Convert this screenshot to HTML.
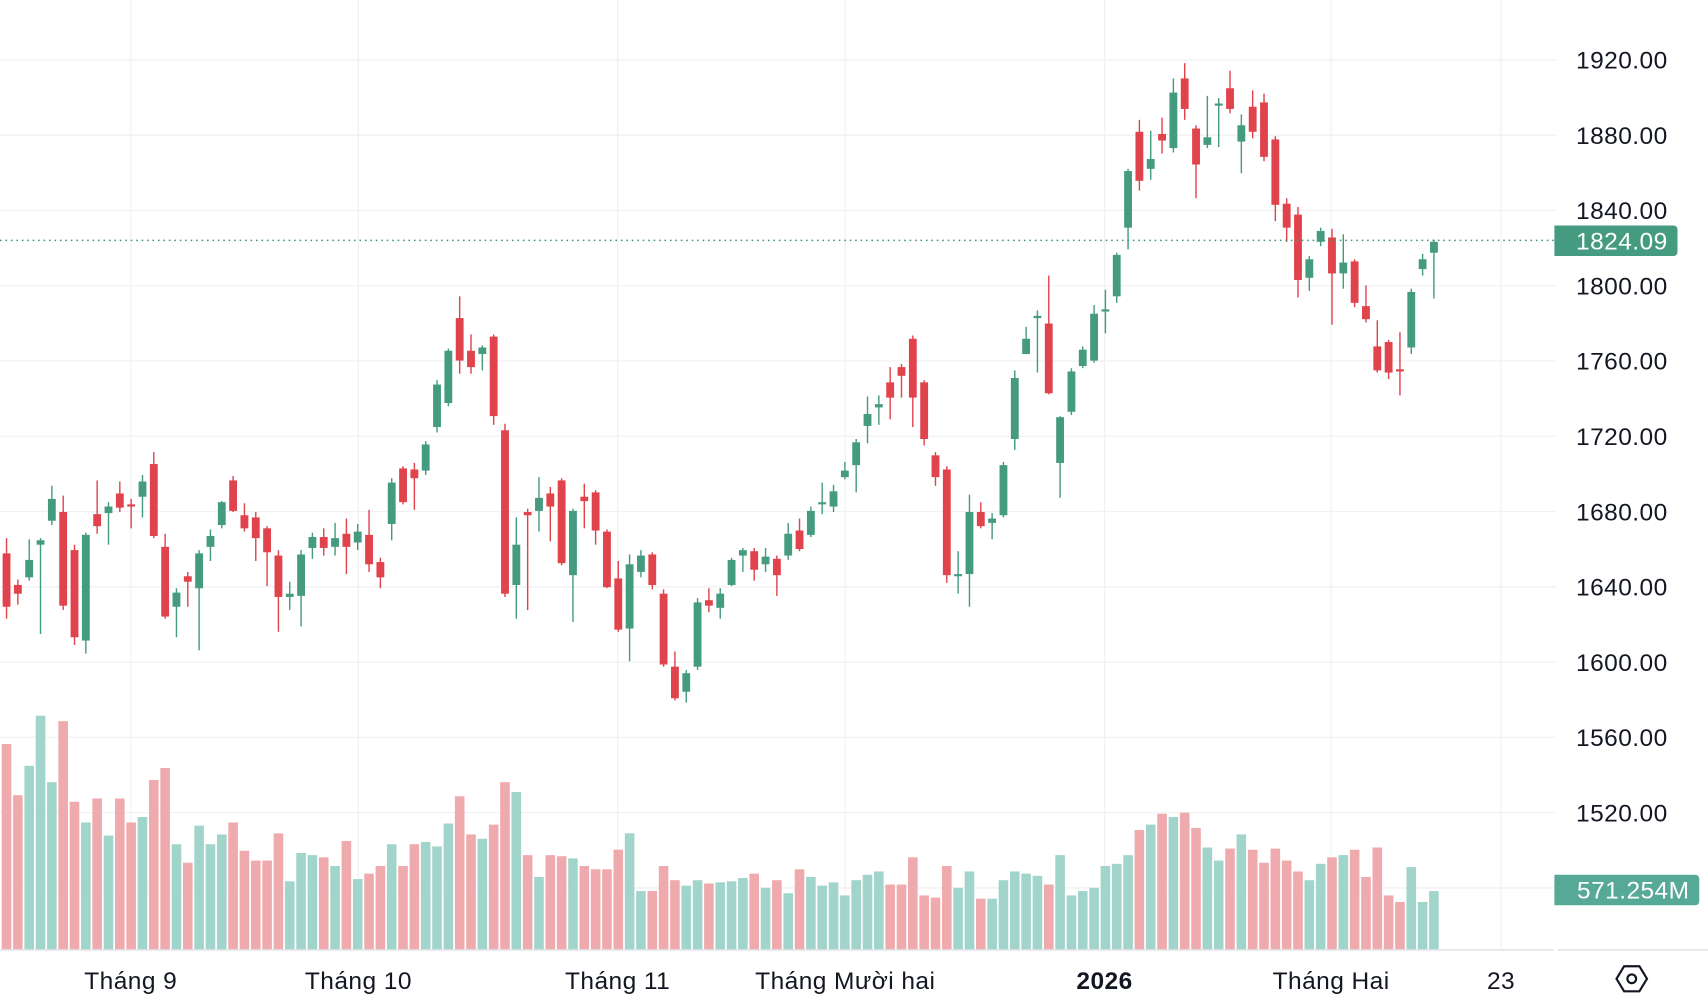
<!DOCTYPE html>
<html><head><meta charset="utf-8"><style>
html,body{margin:0;padding:0;background:#fff;width:1708px;height:1006px;overflow:hidden}
svg{display:block}
text{font-family:"Liberation Sans",sans-serif;letter-spacing:0.4px}
</style></head><body>
<svg id="c" width="1708" height="1006" viewBox="0 0 1568 923.5" preserveAspectRatio="none" xmlns="http://www.w3.org/2000/svg">
<rect width="1568" height="923.5" fill="#fff"/>
<g id="grid" stroke="#f0f1f3" stroke-width="1.2"></g>
<g id="vol"></g>
<g id="cand"></g>
<line x1="0" y1="220.7" x2="1428" y2="220.7" stroke="#3d9a80" stroke-width="1.4" stroke-dasharray="1.5 3.5"/>
<line x1="0" y1="872" x2="1426" y2="872" stroke="#e0e3e8" stroke-width="1.5"/>
<line x1="1430" y1="872" x2="1568" y2="872" stroke="#e0e3e8" stroke-width="1.5"/>
<g id="plab" font-size="22.5" fill="#131722"></g>
<path d="M1427 207 H1536 Q1540 207 1540 211 V231 Q1540 235 1536 235 H1427 Z" fill="#459b80"/>
<text x="1531" y="229" font-size="22.5" fill="#fff" text-anchor="end">1824.09</text>
<path d="M1427 803 H1556 Q1560 803 1560 807 V827 Q1560 831 1556 831 H1427 Z" fill="#57a997"/>
<text x="1551" y="825" font-size="22.5" fill="#fff" text-anchor="end">571.254M</text>
<g font-size="22.5" fill="#131722" text-anchor="middle">
<text x="120" y="908">Tháng 9</text>
<text x="329" y="908">Tháng 10</text>
<text x="567" y="908">Tháng 11</text>
<text x="776" y="908">Tháng Mười hai</text>
<text x="1014" y="908" font-weight="bold">2026</text>
<text x="1222" y="908">Tháng Hai</text>
<text x="1378" y="908">23</text>
</g>
<polygon points="1491,887 1505,887 1512,898.5 1505,910 1491,910 1484,898.5" fill="none" stroke="#131722" stroke-width="2"/>
<circle cx="1498" cy="898.5" r="4" fill="none" stroke="#131722" stroke-width="2"/>
</svg>
<script>
var d=[
['r',508,557,494,568,683],['r',537,545,532,555,730],['g',514,530,495,533,703],['g',496,500,494,582,657],['g',458,478,446,482,718],
['r',470,556,455,560,662],['r',505,585,500,592,736],['g',491,588,489,600,755],['r',472,483,441,490,733],['g',465,471,461,500,767],
['r',453,466,442,470,733],['r',463,465,458,485,755],['g',442,456,436,475,750],['r',426,492,415,494,716],['r',502,566,490,568,705],
['g',544,557,540,585,775],['r',529,534,525,557,792],['g',508,540,505,597,758],['g',492,502,486,515,775],['g',461,482,460,485,766],
['r',441,469,437,470,755],['r',473,485,462,488,781],['r',475,494,470,515,790],['r',485,507,483,538,790],['r',510,548,505,580,765],
['g',545,548,534,560,809],['g',509,547,505,575,783],['g',493,503,489,513,785],['r',493,503,485,510,787],['g',494,502,480,510,795],
['r',490,502,476,527,772],['g',488,498,481,505,807],['r',491,518,468,525,802],['r',516,530,512,540,795],['g',443,481,439,496,775],
['r',430,461,428,463,795],['r',431,439,425,468,775],['g',408,432,405,436,773],['g',353,392,349,397,777],['g',322,370,320,373,756],
['r',292,331,272,343,731],['r',322,337,307,343,766],['g',319,325,317,340,770],['r',309,382,307,390,757],['r',395,545,389,548,718],
['g',500,537,475,568,727],['r',470,473,467,560,785],['g',457,469,438,488,805],['r',453,465,447,497,785],['r',441,517,439,519,786],
['g',469,528,467,571,788],['r',456,460,444,485,795],['r',452,487,450,500,798],['r',488,539,486,540,798],['r',531,578,515,580,780],
['g',518,577,509,607,765],['g',510,525,505,530,818],['r',509,537,507,541,818],['r',545,610,541,612,795],['r',612,641,598,643,808],
['g',618,635,615,645,813],['g',553,612,549,615,808],['r',551,556,540,562,811],['g',545,558,540,568,810],['g',514,537,512,538,809],
['g',505,510,503,525,806],['r',506,523,503,533,802],['g',511,518,503,525,815],['r',513,528,510,547,808],['g',490,510,480,514,820],
['r',487,504,476,506,798],['g',469,491,465,493,805],['g',461,463,443,472,813],['g',451,465,445,470,810],['g',432,438,424,440,822],
['g',406,427,403,452,808],['g',380,391,364,407,803],['g',371,374,363,390,800],['r',351,365,337,385,812],['r',337,345,334,365,812],
['r',311,365,308,392,787],['r',351,403,349,409,822],['r',418,438,415,446,824],['r',431,528,428,535,795],['g',527,529,506,545,815],
['g',470,527,454,557,800],['r',470,483,461,485,825],['g',476,480,471,495,825],['g',427,473,424,475,808],['g',347,403,340,413,800],
['g',311,325,300,325,802],['g',290,292,285,342,804],['r',297,361,253,362,812],['g',383,425,382,457,785],['g',341,378,338,381,822],
['g',321,336,318,338,818],['g',288,331,280,333,815],['g',284,286,266,306,795],['g',234,272,232,278,793],['g',157,209,155,229,785],
['r',121,166,110,175,762],['g',146,155,120,165,757],['r',123,129,108,141,747],['g',85,136,72,140,750],['r',72,100,58,110,746],
['r',118,151,115,182,760],['g',126,133,88,136,778],['g',95,97,90,135,790],['r',81,100,65,104,779],['g',115,130,105,159,766],
['r',98,121,83,127,780],['r',94,144,86,148,792],['r',128,188,125,203,779],['r',187,209,182,222,790],['r',197,257,190,273,800],
['g',238,255,235,267,808],['g',212,222,209,226,793],['r',218,251,210,298,787],['g',241,251,215,265,785],['r',240,278,238,282,780],
['r',281,293,262,296,805],['r',318,340,294,342,778],['r',314,342,312,348,822],['r',339,341,305,363,828],['g',268,319,265,325,796],
['g',238,247,233,253,828],['g',222,232,220,274,818]];
var NS="http://www.w3.org/2000/svg";
function el(p,t,a){var e=document.createElementNS(NS,t);for(var k in a)e.setAttribute(k,a[k]);p.appendChild(e);return e;}
var G=document.getElementById('grid'),V=document.getElementById('vol'),C=document.getElementById('cand'),P=document.getElementById('plab');
[120,329,567,776,1014,1222,1378].forEach(function(x){el(G,'line',{x1:x,y1:0,x2:x,y2:872});});
for(var p=1920;p>=1480;p-=40){var y=55+(1920-p)*1.7275;el(G,'line',{x1:0,y1:y,x2:1428,y2:y});
 if(p>=1520){var t=el(P,'text',{x:1531,y:y+8,'text-anchor':'end'});t.textContent=p.toFixed(2);}}
d.forEach(function(c,i){var x=6+10.4*i;var gr=c[0]=='g';
 var col=gr?'#459b80':'#e0434b';
 el(V,'rect',{x:x-4.4,y:c[5],width:8.8,height:872-c[5],fill:gr?'#a1d4ca':'#efaaae'});
 el(C,'line',{x1:x,y1:c[3],x2:x,y2:c[4],stroke:col,'stroke-width':1.3});
 var h=Math.max(c[2]-c[1],1.5);
 el(C,'rect',{x:x-3.6,y:c[1],width:7.2,height:h,fill:col});
});
</script>
</body></html>
